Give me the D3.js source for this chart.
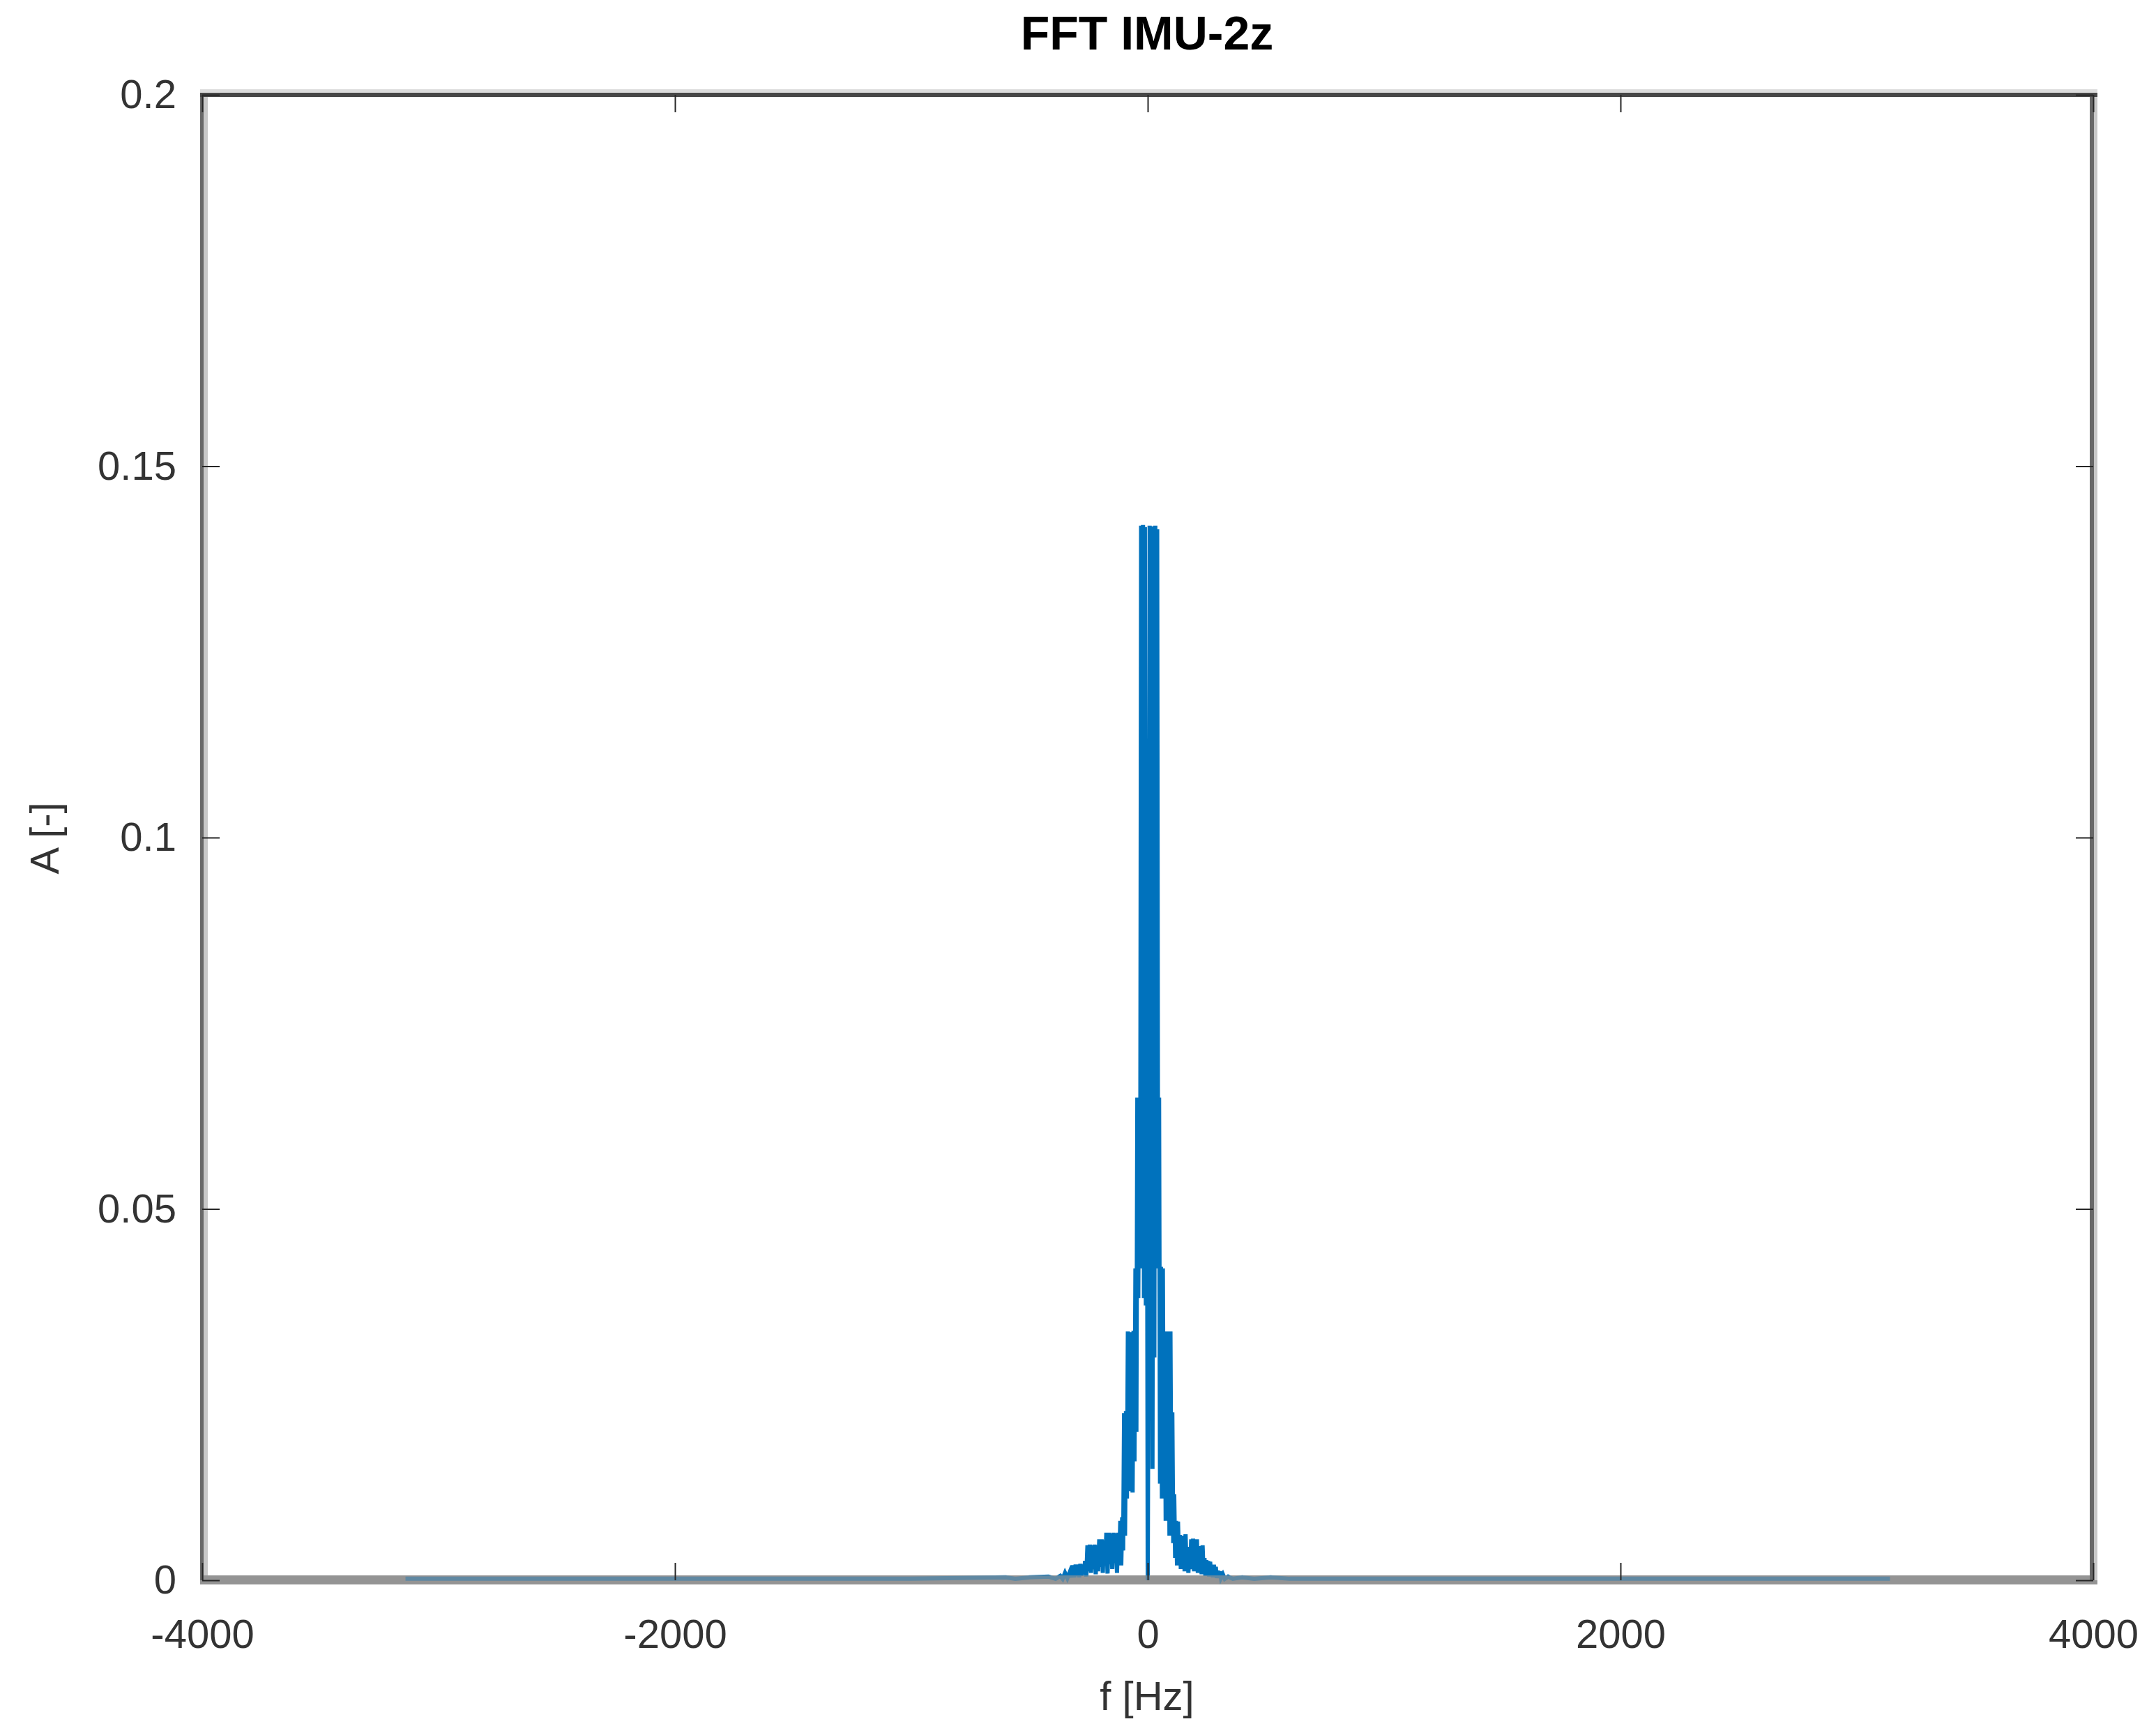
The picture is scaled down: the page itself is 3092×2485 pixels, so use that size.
<!DOCTYPE html>
<html>
<head>
<meta charset="utf-8">
<script src="https://cdn.jsdelivr.net/npm/d3@7"></script>
<style>
  body { margin: 0; background: #fff; }
  text { font-family: "Liberation Sans", Arial, sans-serif; }
  .tickLabel text { fill: #333; font-size: 58px; }
  .axisTitle { fill: #333; font-size: 58px; }
  .chartTitle { fill: #000; font-size: 68px; font-weight: bold; }
</style>
</head>
<body>
<script>
(function(){
//tick values
var xTicks = [-4000, -2000, 0, 2000, 4000];
var yTicks = [0, 0.05, 0.1, 0.15, 0.2];

//spectrum points: frequency [Hz] and amplitude [-]
var freqHz = [-3140, -2000, -1000, -600, -560, -500, -420, -390,
  -370, -360, -350, -340, -330, -325, -318, -311, -305, -300, -295, -290, -285, -280, -275, -270, -265, -260, -255, -250,
  -245, -240, -235, -230, -225, -220, -215, -210, -205, -200, -195, -190, -185, -180,
  -175, -170, -165, -160, -155, -150, -145, -140, -135, -130, -125, -120, -116, -112,
  -108, -104, -100, -96, -92, -88, -84, -80, -76, -72, -68, -64, -60, -56, -52, -48,
  -44, -40, -36, -32, -28, -24, -20, -16, -12, -8, -4, 0, 4, 8, 12, 16, 20, 24, 28,
  32, 36, 40, 44, 48, 52, 56, 60, 64, 68, 72, 76, 80, 84, 88, 92, 96, 100, 104, 108,
  112, 116, 120, 124, 128, 132, 136, 140, 144, 148, 152, 156, 160, 164, 168, 172, 176,
  180, 184, 188, 192, 196, 200, 204, 208, 212, 216, 220, 224, 228, 232, 236, 240, 244,
  248, 252, 256, 260, 264, 268, 272, 276, 280, 284, 288, 292, 296, 300, 305, 310, 318,
  326, 340, 360, 400, 450, 520, 600, 1000, 2000, 3140];
var ampl = [0.0002, 0.0002, 0.0002, 0.0004, 0.0002, 0.0004, 0.0005, 0.0002,
  0.0006, 0.0002, 0.0010, 0.0003, 0.0011, 0.0004, 0.0020, 0.0004, 0.0021, 0.0006, 0.0021, 0.0004, 0.0022, 0.0006, 0.0021, 0.0008, 0.0026, 0.0005, 0.0047, 0.0012,
  0.0048, 0.0010, 0.0047, 0.0015, 0.0048, 0.0008, 0.0047, 0.0012, 0.0055, 0.0018, 0.0055, 0.0010, 0.0054, 0.0020,
  0.0064, 0.0009, 0.0064, 0.0022, 0.0063, 0.0015, 0.0064, 0.0025, 0.0063, 0.0010, 0.0064, 0.0030, 0.0080, 0.0020,
  0.0085, 0.0040, 0.0225, 0.0060, 0.0228, 0.0110, 0.0335, 0.0120, 0.0334, 0.0140, 0.0334, 0.0118, 0.0336, 0.0160, 0.0420, 0.0200,
  0.0650, 0.0380, 0.0648, 0.0420, 0.1420, 0.0450, 0.1421, 0.0380, 0.1418, 0.0370, 0.0836, 0.0000, 0.0420, 0.1420, 0.0300, 0.1419, 0.0150, 0.0836, 0.0300,
  0.1420, 0.0480, 0.1415, 0.0420, 0.0650, 0.0130, 0.0422, 0.0110, 0.0420, 0.0120, 0.0334, 0.0080, 0.0335, 0.0100, 0.0333, 0.0060, 0.0335, 0.0090, 0.0226, 0.0050,
  0.0116, 0.0030, 0.0080, 0.0020, 0.0079, 0.0030, 0.0061, 0.0015, 0.0060, 0.0025, 0.0058, 0.0012, 0.0062, 0.0020, 0.0045, 0.0010, 0.0040,
  0.0015, 0.0055, 0.0020, 0.0056, 0.0012, 0.0054, 0.0022, 0.0055, 0.0010, 0.0040, 0.0015, 0.0046, 0.0008, 0.0047, 0.0012, 0.0030, 0.0006,
  0.0027, 0.0010, 0.0026, 0.0005, 0.0025, 0.0008, 0.0021, 0.0004, 0.0021, 0.0006, 0.0018, 0.0003, 0.0013, 0.0005, 0.0012, 0.0003, 0.0008,
  0.0002, 0.0005, 0.0002, 0.0004, 0.0002, 0.0004, 0.0002, 0.0002, 0.0002, 0.0002];

var chartTitle = "FFT IMU-2z",
    xLabel = "f [Hz]",
    yLabel = "A [-]";

window.onload = setChart();

function setChart(){
    //frame dimensions
    var width = 3092,
        height = 2485,
        left = 290,
        right = 3002,
        top = 136,
        bottom = 2266,
        tickLen = 25;

    var svg = d3.select("body")
        .append("svg")
        .attr("width", width)
        .attr("height", height);

    var x = d3.scaleLinear().domain([-4000, 4000]).range([left, right]);
    var y = d3.scaleLinear().domain([0, 0.2]).range([bottom, top]);

    //bottom axis band sits under the data
    svg.append("rect").attr("x", left - 3).attr("y", bottom - 7).attr("width", right - left + 9).attr("height", 13)
        .attr("fill", "#959595");

    //data line
    var points = freqHz.map(function(f, i){ return [f, ampl[i]]; });
    var line = d3.line()
        .x(function(d){ return x(d[0]); })
        .y(function(d){ return y(d[1]); });

    svg.append("path")
        .datum(points)
        .attr("d", line)
        .attr("fill", "none")
        .attr("stroke", "#0072bd")
        .attr("stroke-width", 6)
        .attr("stroke-linejoin", "miter");

    //gray veil over the band so the zero line reads blue-gray
    svg.append("rect").attr("x", left - 3).attr("y", bottom - 7).attr("width", right - left + 9).attr("height", 13)
        .attr("fill", "#939393").attr("opacity", 0.65);

    //box lines
    svg.append("rect").attr("x", left - 3).attr("y", top).attr("width", 5).attr("height", bottom - top).attr("fill", "#686868");
    svg.append("rect").attr("x", left + 2).attr("y", top).attr("width", 6).attr("height", bottom - top - 7).attr("fill", "#c8c8c8");
    svg.append("rect").attr("x", right - 5).attr("y", top).attr("width", 6).attr("height", bottom - top).attr("fill", "#686868");
    svg.append("rect").attr("x", right + 1).attr("y", top).attr("width", 5).attr("height", bottom - top).attr("fill", "#c8c8c8");
    svg.append("rect").attr("x", left - 3).attr("y", top - 8).attr("width", right - left + 9).attr("height", 5).attr("fill", "#dcdcdc");
    svg.append("rect").attr("x", left - 3).attr("y", top - 3).attr("width", right - left + 9).attr("height", 6).attr("fill", "#474747");

    //axes with inward ticks
    var xAxis = svg.append("g")
        .attr("class", "tickLabel")
        .attr("transform", "translate(0," + bottom + ")")
        .call(d3.axisBottom(x).tickValues(xTicks).tickSize(-tickLen).tickPadding(56)
            .tickFormat(function(d){ return String(d); }));
    var yAxis = svg.append("g")
        .attr("class", "tickLabel")
        .attr("transform", "translate(" + left + ",0)")
        .call(d3.axisLeft(y).tickValues(yTicks).tickSize(-tickLen).tickPadding(37)
            .tickFormat(function(d){ return String(d); }));
    var xTop = svg.append("g")
        .attr("transform", "translate(0," + top + ")")
        .call(d3.axisTop(x).tickValues(xTicks).tickSize(-tickLen).tickFormat(""));
    var yRight = svg.append("g")
        .attr("transform", "translate(" + right + ",0)")
        .call(d3.axisRight(y).tickValues(yTicks).tickSize(-tickLen).tickFormat(""));

    [xAxis, yAxis, xTop, yRight].forEach(function(g){
        g.select(".domain").remove();
        g.selectAll(".tick line").attr("stroke", "#262626").attr("stroke-width", 2);
        g.selectAll("text").attr("font-family", null).attr("font-size", null).attr("fill", null);
    });

    //titles
    svg.append("text")
        .attr("class", "chartTitle")
        .attr("x", 1645)
        .attr("y", 71)
        .attr("text-anchor", "middle")
        .text(chartTitle);
    svg.append("text")
        .attr("class", "axisTitle")
        .attr("x", 1645)
        .attr("y", 2452)
        .attr("text-anchor", "middle")
        .text(xLabel);
    svg.append("text")
        .attr("class", "axisTitle")
        .attr("transform", "translate(84,1202) rotate(-90)")
        .attr("text-anchor", "middle")
        .text(yLabel);
};//end of setChart

})();
</script>
</body>
</html>
